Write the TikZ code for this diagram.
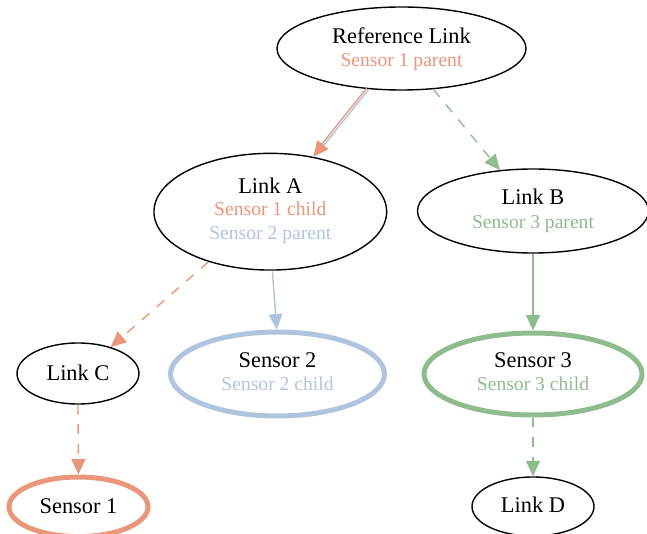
\documentclass[tikz,border=0pt]{standalone}
\usepackage{fontspec}
\setmainfont{Liberation Serif}
\usetikzlibrary{arrows.meta,calc,shapes.geometric}
\definecolor{salmon}{HTML}{E9967A}
\definecolor{steel}{HTML}{B0C4DE}
\definecolor{sea}{HTML}{8FBC8F}
\begin{document}
\begin{tikzpicture}[x=1pt,y=-1pt,
  ell/.style={draw=black,line width=1.4pt,ellipse,inner sep=0pt},
  sens/.style={ellipse,inner sep=0pt,line width=5pt},
  ttl/.style={anchor=base,inner sep=0pt,font=\fontsize{22.4}{26}\selectfont},
  sub/.style={anchor=base,inner sep=0pt,font=\fontsize{19.6}{23}\selectfont},
  tip/.style={-{Triangle[length=15.5pt,width=14pt]}},
  edge/.style={line width=1.4pt,tip},
  dsh/.style={dash pattern=on 9.8pt off 9.8pt},
]
\useasboundingbox (0,0) rectangle (647,534);
% nodes
\node[ell,minimum width=249pt,minimum height=83pt] (ref) at (401.5,48.5) {};
\node[ttl] (ref-t) at (401.5,43.3) {Reference Link};
\node[sub,text=salmon] (ref-s) at (401.5,66.7) {Sensor 1 parent};

\node[ell,minimum width=232.7pt,minimum height=116.7pt] (linkA) at (270.3,211.7) {};
\node[ttl] (linkA-t) at (270.3,193.3) {Link A};
\node[sub,text=salmon] (linkA-s1) at (270.3,216) {Sensor 1 child};
\node[sub,text=steel] (linkA-s2) at (270.3,240) {Sensor 2 parent};

\node[ell,minimum width=231pt,minimum height=84pt] (linkB) at (533,211) {};
\node[ttl] (linkB-t) at (533,205) {Link B};
\node[sub,text=sea] (linkB-s) at (533,228.3) {Sensor 3 parent};

\node[ell,minimum width=122pt,minimum height=61pt] (linkC) at (78,373.5) {};
\node[ttl] (linkC-t) at (78,380) {Link C};

\node[sens,draw=steel,minimum width=214pt,minimum height=84pt] (sensor2) at (277.5,374) {};
\node[ttl] (sensor2-t) at (277.5,367.3) {Sensor 2};
\node[sub,text=steel] (sensor2-s) at (277.5,390) {Sensor 2 child};

\node[sens,draw=sea,minimum width=218pt,minimum height=82pt] (sensor3) at (533,374) {};
\node[ttl] (sensor3-t) at (533,367.3) {Sensor 3};
\node[sub,text=sea] (sensor3-s) at (533,390) {Sensor 3 child};

\node[sens,draw=salmon,minimum width=139pt,minimum height=59.6pt] (sensor1) at (78.5,506.8) {};
\node[ttl] (sensor1-t) at (78.5,513.3) {Sensor 1};

\node[ell,minimum width=122pt,minimum height=59pt] (linkD) at (533,506.5) {};
\node[ttl] (linkD-t) at (533,512.7) {Link D};

% edges
\draw[steel,line width=1.4pt,shorten >=12pt] ([xshift=0.9pt,yshift=-0.72pt]ref.230) -- ([xshift=0.9pt,yshift=-0.72pt]linkA.52.5);
\draw[salmon,line width=1.4pt,shorten >=12pt] ([xshift=-0.9pt,yshift=0.72pt]ref.230) -- ([xshift=-0.9pt,yshift=0.72pt]linkA.52.5);
\draw[salmon,edge] ($(ref.230)!0.88!(linkA.52.5)$) -- (linkA.52.5);

\draw[sea,edge,dsh] (ref.308) -- (linkB.129.3);
\draw[salmon,edge,dsh] (linkA.219.4) -- (linkC.39.6);
\draw[steel,edge] (linkA.272) -- (sensor2.91);
\draw[sea,edge] (linkB.south) -- (sensor3.north);
\draw[salmon,edge,dsh] (linkC.south) -- (sensor1.north);
\draw[sea,edge,dsh] (sensor3.south) -- (linkD.north);
\end{tikzpicture}
\end{document}
